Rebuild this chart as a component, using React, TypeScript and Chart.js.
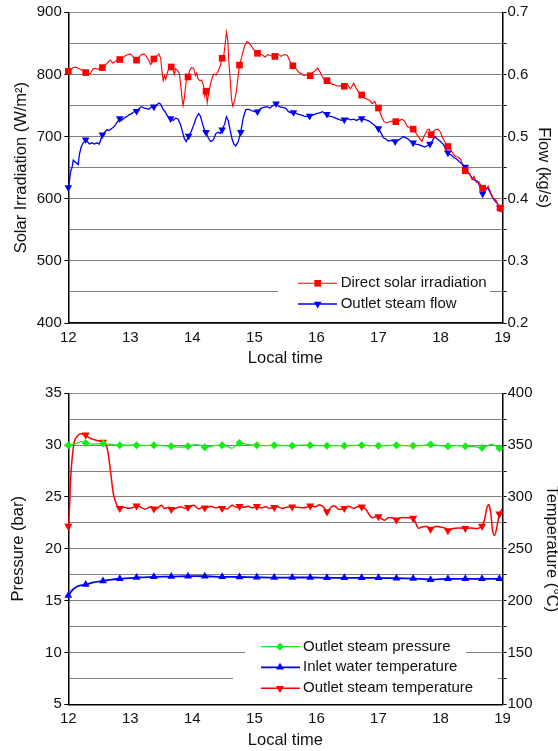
import React, { useEffect, useRef } from 'react';
import { Chart, registerables } from 'chart.js';

Chart.register(...registerables);

const FONT = '"Liberation Sans", Arial, sans-serif';

// ---------------- Top chart data ----------------
const irrTime = [12.00,12.04,12.08,12.12,12.16,12.20,12.24,12.28,12.32,12.36,12.40,12.44,12.48,12.52,12.55,12.60,12.64,12.68,12.72,12.76,12.80,12.83,12.88,12.92,12.96,13.00,13.04,13.08,13.10,13.14,13.18,13.22,13.26,13.30,13.33,13.36,13.38,13.42,13.46,13.49,13.51,13.53,13.55,13.57,13.60,13.63,13.66,13.69,13.71,13.73,13.76,13.79,13.81,13.83,13.85,13.87,13.90,13.93,13.96,13.99,14.02,14.05,14.07,14.09,14.12,14.15,14.18,14.20,14.22,14.24,14.26,14.29,14.32,14.35,14.38,14.42,14.45,14.48,14.51,14.53,14.55,14.57,14.59,14.61,14.63,14.65,14.68,14.71,14.73,14.76,14.79,14.82,14.85,14.88,14.91,14.95,14.99,15.03,15.07,15.12,15.17,15.22,15.27,15.33,15.38,15.43,15.48,15.53,15.57,15.60,15.64,15.68,15.72,15.76,15.80,15.85,15.90,15.94,15.98,16.02,16.06,16.10,16.14,16.17,16.22,16.26,16.30,16.35,16.40,16.45,16.50,16.55,16.60,16.64,16.68,16.71,16.74,16.78,16.82,16.86,16.90,16.94,16.97,17.00,17.03,17.06,17.09,17.13,17.18,17.22,17.26,17.30,17.34,17.38,17.42,17.46,17.50,17.54,17.58,17.62,17.66,17.70,17.73,17.76,17.79,17.82,17.85,17.88,17.92,17.96,18.00,18.04,18.08,18.12,18.16,18.20,18.24,18.28,18.32,18.36,18.39,18.43,18.47,18.51,18.54,18.58,18.62,18.66,18.69,18.73,18.77,18.81,18.85,18.89,18.93,18.96,19.00];
const irrValue = [805,807,811,812,810,808,806,803,801,802,809,810,808,811,811,815,820,823,818,821,825,824,827,830,832,833,829,826,823,828,832,833,829,822,816,821,825,829,833,826,805,790,798,792,804,812,812,807,800,809,806,802,785,765,750,762,788,796,807,811,810,798,802,793,790,791,782,765,773,755,768,784,795,801,799,806,814,826,833,850,868,856,818,792,762,749,757,773,790,815,826,838,848,853,851,846,840,834,833,832,828,832,830,829,833,829,832,831,822,816,812,808,803,801,798,800,798,803,806,810,804,795,791,790,787,784,783,781,782,781,784,777,786,778,772,768,767,762,760,758,753,757,749,746,738,730,724,722,724,725,723,724,726,728,725,717,714,712,710,703,698,692,700,705,711,712,704,708,711,712,707,697,690,684,680,673,668,667,664,655,645,642,640,631,636,626,627,620,617,615,620,610,601,598,590,585,577];
const irrMarkTime = [12.00,12.28,12.55,12.83,13.10,13.38,13.66,13.93,14.22,14.48,14.76,15.05,15.33,15.62,15.90,16.17,16.45,16.73,17.00,17.28,17.56,17.85,18.12,18.40,18.68,18.96];
const irrMarkValue = [805,803,811,824,823,825,812,796,773,826,815,834,829,814,798,790,781,767,746,724,712,703,684,645,617,585];

const flowTime = [12.00,12.02,12.04,12.06,12.08,12.10,12.13,12.16,12.18,12.21,12.24,12.28,12.31,12.34,12.38,12.42,12.46,12.50,12.55,12.58,12.62,12.66,12.70,12.74,12.78,12.83,12.86,12.90,12.94,12.98,13.02,13.06,13.10,13.14,13.18,13.22,13.26,13.30,13.34,13.38,13.42,13.46,13.49,13.52,13.56,13.60,13.65,13.69,13.73,13.77,13.81,13.84,13.87,13.90,13.94,13.98,14.02,14.06,14.10,14.13,14.16,14.19,14.22,14.26,14.30,14.34,14.38,14.42,14.45,14.48,14.52,14.55,14.58,14.61,14.64,14.67,14.70,14.74,14.78,14.82,14.86,14.90,14.95,15.00,15.05,15.10,15.15,15.20,15.25,15.30,15.35,15.40,15.45,15.50,15.55,15.60,15.65,15.70,15.75,15.80,15.85,15.90,15.95,16.00,16.05,16.10,16.15,16.20,16.25,16.30,16.35,16.40,16.45,16.50,16.55,16.60,16.65,16.70,16.75,16.80,16.85,16.90,16.95,17.00,17.04,17.08,17.12,17.16,17.20,17.25,17.30,17.35,17.40,17.44,17.48,17.52,17.56,17.60,17.65,17.70,17.75,17.80,17.84,17.88,17.91,17.95,18.00,18.05,18.10,18.14,18.18,18.22,18.26,18.30,18.35,18.40,18.44,18.48,18.52,18.56,18.60,18.64,18.68,18.72,18.76,18.80,18.84,18.88,18.92,18.96,19.00];
const flowValue = [0.418,0.430,0.445,0.450,0.462,0.460,0.458,0.455,0.472,0.484,0.490,0.495,0.492,0.488,0.490,0.488,0.490,0.488,0.503,0.506,0.511,0.510,0.513,0.516,0.522,0.529,0.526,0.530,0.532,0.535,0.537,0.540,0.541,0.545,0.548,0.546,0.545,0.544,0.548,0.548,0.550,0.554,0.552,0.545,0.540,0.533,0.529,0.526,0.530,0.528,0.519,0.508,0.497,0.492,0.501,0.508,0.518,0.530,0.537,0.533,0.522,0.512,0.507,0.497,0.492,0.495,0.505,0.507,0.505,0.511,0.520,0.532,0.525,0.510,0.496,0.488,0.485,0.492,0.507,0.530,0.543,0.544,0.542,0.540,0.540,0.545,0.547,0.548,0.546,0.550,0.553,0.548,0.547,0.546,0.540,0.538,0.539,0.536,0.535,0.533,0.532,0.533,0.535,0.537,0.538,0.540,0.536,0.533,0.532,0.530,0.528,0.526,0.527,0.529,0.527,0.528,0.526,0.529,0.528,0.527,0.525,0.521,0.517,0.513,0.506,0.498,0.496,0.493,0.494,0.492,0.493,0.496,0.500,0.498,0.496,0.492,0.490,0.488,0.487,0.485,0.483,0.486,0.488,0.495,0.500,0.496,0.492,0.487,0.476,0.472,0.470,0.466,0.464,0.460,0.456,0.451,0.443,0.438,0.432,0.429,0.428,0.418,0.408,0.413,0.418,0.410,0.402,0.396,0.392,0.385,0.380];
const flowMarkTime = [12.00,12.28,12.55,12.83,13.10,13.38,13.65,13.94,14.22,14.48,14.78,15.05,15.35,15.63,15.89,16.17,16.45,16.73,17.00,17.27,17.56,17.83,18.12,18.40,18.68,18.96];
const flowMarkValue = [0.418,0.495,0.503,0.529,0.541,0.548,0.529,0.501,0.507,0.511,0.507,0.540,0.553,0.539,0.533,0.536,0.527,0.529,0.513,0.492,0.490,0.488,0.474,0.451,0.408,0.385];

// ---------------- Bottom chart data ----------------
const pressTime = [12.00,12.10,12.20,12.28,12.40,12.56,12.70,12.83,13.00,13.10,13.25,13.38,13.52,13.66,13.80,13.93,14.05,14.12,14.20,14.35,14.48,14.58,14.64,14.70,14.76,14.90,15.04,15.18,15.32,15.47,15.61,15.75,15.90,16.03,16.17,16.31,16.45,16.59,16.73,16.86,17.00,17.14,17.29,17.42,17.56,17.70,17.84,17.98,18.12,18.26,18.40,18.54,18.67,18.75,18.82,18.88,18.95,19.00];
const pressValue = [30.0,30.1,30.35,30.2,30.1,30.15,30.05,30.0,30.0,30.0,29.95,30.0,29.95,29.9,29.8,29.9,30.05,30.0,29.8,29.95,30.0,29.85,29.7,29.95,30.2,30.05,30.0,29.95,30.0,29.95,29.95,30.0,30.0,29.95,29.95,29.95,29.95,29.95,30.0,29.95,29.95,29.95,30.0,29.95,29.95,29.95,30.05,29.95,29.9,29.95,29.9,29.85,29.75,29.9,30.1,29.95,29.7,29.7];
const bottomMarkTime = [12.00,12.28,12.56,12.83,13.10,13.38,13.66,13.93,14.20,14.48,14.76,15.04,15.32,15.61,15.90,16.17,16.45,16.73,17.00,17.29,17.56,17.84,18.12,18.40,18.67,18.95];
const pressMarkValue = [30.0,30.2,30.15,30.0,30.0,30.0,29.9,29.9,29.8,30.0,30.2,30.0,30.0,29.95,30.0,29.95,29.95,30.0,29.95,30.0,29.95,30.05,29.9,29.9,29.75,29.7];

const inletTime = [12.00,12.03,12.07,12.12,12.18,12.28,12.40,12.56,12.70,12.83,13.00,13.10,13.38,13.66,13.93,14.20,14.48,14.76,15.04,15.32,15.61,15.90,16.17,16.45,16.73,17.00,17.29,17.56,17.70,17.84,18.00,18.12,18.40,18.67,18.95,19.00];
const inletValue = [205,207.5,210.5,213,214.5,215.5,217.5,219,220.3,221,221.8,222.2,223,223.2,223.5,223.5,223,222.8,222.5,222.2,222.3,222.3,222,222,222,222,221.6,221.3,221,220.2,220.8,221,221,221,221,221];
const inletMarkValue = [205,215.5,219,221,222.2,223,223.2,223.5,223.5,223,222.8,222.5,222.2,222.3,222.3,222,222,222,222,221.6,221.3,220.2,221,221,221,221];

const outTime = [12.00,12.02,12.04,12.07,12.10,12.15,12.20,12.27,12.34,12.41,12.50,12.57,12.61,12.64,12.67,12.70,12.73,12.77,12.80,12.83,12.90,12.97,13.05,13.12,13.20,13.25,13.33,13.42,13.50,13.55,13.62,13.68,13.75,13.81,13.88,13.95,14.02,14.10,14.16,14.23,14.30,14.37,14.43,14.50,14.57,14.64,14.70,14.76,14.83,14.90,14.97,15.04,15.11,15.18,15.25,15.32,15.38,15.45,15.52,15.61,15.70,15.78,15.85,15.90,15.98,16.05,16.12,16.17,16.24,16.30,16.36,16.45,16.52,16.60,16.66,16.73,16.80,16.85,16.90,16.95,17.00,17.05,17.10,17.16,17.22,17.29,17.36,17.45,17.56,17.60,17.64,17.70,17.78,17.84,17.92,18.00,18.08,18.12,18.20,18.30,18.40,18.50,18.60,18.67,18.71,18.75,18.78,18.81,18.84,18.87,18.90,18.95,19.00];
const outValue = [272,290,320,342,354,359,361,360,357,355.5,354,353,350,343,330,315,302,294,290,289,290,289,290,291.5,289,288.5,290.5,288.5,292,289,290,288,289.5,290.5,289,290,292,288.5,290,289.5,291,289.5,290,289,288.5,292,290,291,290,291,289.5,291,289.5,290.5,289,290,290.5,289,290,290.5,290,289.5,290,291.5,290.5,292.5,290,285.8,290.5,291,288,289,291,289,290.5,290.5,288,283,280,281,281,279,277.5,280,280,278,280,280,279.5,275,270,271,271.5,269,271.5,271,270,267.5,269.5,270,269.8,270,269.5,272,278,290,292.5,285,268,263,268,283.6,289];
const outMarkValue = [272,360,353,289,291.5,288.5,288,290,289.5,289,291,291,290,290.5,291.5,285.8,289,290.5,281,278,279.5,269,267.5,269.8,272,283.6];

const topXTicks = { min: 12, max: 19, step: 1 };
const topYTicks = { min: 400, max: 900, step: 50, labelEvery: 100 };
const topY1Ticks = { min: 0.2, max: 0.7, step: 0.05 };
const botYTicks = { min: 5, max: 35, step: 2.5, labelEvery: 5 };
const botY1Ticks = { min: 100, max: 400, step: 25, labelEvery: 50 };

const pts = (xs: number[], ys: number[]) => xs.map((x, i) => ({ x, y: ys[i] }));

type MarkStyle = 'rect' | 'triDown' | 'triUp' | 'diamond';

function drawMarker(ctx: CanvasRenderingContext2D, style: MarkStyle, x: number, y: number, r: number, color: string) {
  ctx.fillStyle = color;
  ctx.beginPath();
  if (style === 'rect') {
    const s = Math.SQRT1_2 * r;
    ctx.rect(x - s, y - s, 2 * s, 2 * s);
  } else if (style === 'diamond') {
    ctx.moveTo(x - r, y); ctx.lineTo(x, y - r); ctx.lineTo(x + r, y); ctx.lineTo(x, y + r);
  } else {
    const sgn = style === 'triUp' ? 1 : -1;
    ctx.moveTo(x, y - sgn * r);
    ctx.lineTo(x + r * Math.sqrt(3) / 2, y + sgn * r / 2);
    ctx.lineTo(x - r * Math.sqrt(3) / 2, y + sgn * r / 2);
  }
  ctx.closePath();
  ctx.fill();
}

type LegendItem = { label: string; color: string; style: MarkStyle; r: number; lw: number };
type LegendCfg = { boxes: number[][]; rowsY: number[]; lineX: number[]; markX: number; textX: number; items: LegendItem[] };

function legendPlugin(cfg: LegendCfg) {
  return {
    id: 'customLegend',
    beforeDatasetsDraw(chart: any) {
      const ctx = chart.ctx as CanvasRenderingContext2D;
      ctx.save();
      ctx.fillStyle = '#fff';
      cfg.boxes.forEach(([x, y, w, h]) => ctx.fillRect(x, y, w, h));
      ctx.restore();
    },
    afterDraw(chart: any) {
      const ctx = chart.ctx as CanvasRenderingContext2D;
      ctx.save();
      cfg.items.forEach((it, i) => {
        const y = cfg.rowsY[i];
        ctx.strokeStyle = it.color;
        ctx.lineWidth = it.lw;
        ctx.beginPath();
        ctx.moveTo(cfg.lineX[0], y);
        ctx.lineTo(cfg.lineX[1], y);
        ctx.stroke();
        drawMarker(ctx, it.style, cfg.markX, y, it.r, it.color);
        ctx.fillStyle = '#111';
        ctx.font = `15px ${FONT}`;
        ctx.textBaseline = 'middle';
        ctx.textAlign = 'left';
        ctx.fillText(it.label, cfg.textX, y);
      });
      ctx.restore();
    },
  };
}

const tickFont = { family: FONT, size: 15 };
const titleFont = { family: FONT, size: 16.5 };

function leftAxis(t: { min: number; max: number; step: number; labelEvery: number }, title: string, width: number, titlePad: number) {
  return {
    type: 'linear',
    position: 'left',
    min: t.min,
    max: t.max,
    afterFit: (s: any) => { s.width = width; },
    ticks: {
      stepSize: t.step,
      autoSkip: false,
      padding: 2.5,
      color: '#111',
      font: tickFont,
      callback: (v: number) => (Math.abs(v / t.labelEvery - Math.round(v / t.labelEvery)) < 1e-6 ? String(v) : ''),
    },
    grid: {
      drawTicks: true,
      tickLength: 4,
      lineWidth: 1,
      color: (c: any) => (c.tick && c.tick.value === t.max ? '#8c8c8c' : '#000'),
      tickColor: (c: any) => (c.tick && Math.abs(c.tick.value / t.labelEvery - Math.round(c.tick.value / t.labelEvery)) < 1e-6 ? '#000' : 'rgba(0,0,0,0)'),
    },
    border: {
      display: true,
      color: '#000',
      width: 1.5,
      dash: (c: any) => (c.tick && c.tick.value === t.max ? [] : [1, 1]),
    },
    title: { display: true, text: title, color: '#111', font: titleFont, padding: { top: titlePad, bottom: 0 } },
  };
}

function rightAxis(t: { min: number; max: number; step: number }, title: string, width: number, titlePad: number, cb: (v: number) => string) {
  return {
    type: 'linear',
    position: 'right',
    min: t.min,
    max: t.max,
    afterFit: (s: any) => { s.width = width; },
    ticks: { stepSize: t.step, autoSkip: false, padding: 1, color: '#111', font: tickFont, callback: cb },
    grid: { drawOnChartArea: false, drawTicks: true, tickLength: 4, tickColor: '#000' },
    border: { display: true, color: '#000', width: 1.5 },
    title: { display: true, text: title, color: '#111', font: titleFont, padding: { top: titlePad, bottom: 0 } },
  };
}

function xAxis(height: number, titlePadBottom: number) {
  return {
    type: 'linear',
    position: 'bottom',
    min: topXTicks.min,
    max: topXTicks.max,
    afterFit: (s: any) => { s.height = height; },
    ticks: { stepSize: topXTicks.step, autoSkip: false, padding: 2, color: '#111', font: tickFont, maxRotation: 0 },
    grid: { display: false, drawTicks: true, tickLength: 4 },
    border: { display: true, color: '#000', width: 1.5 },
    title: { display: true, text: 'Local time', color: '#111', font: titleFont, padding: { top: 0, bottom: titlePadBottom } },
  };
}

function topConfig(): any {
  return {
    type: 'line',
    data: {
      datasets: [
        { label: 'irrMarks', data: pts(irrMarkTime, irrMarkValue), yAxisID: 'y', showLine: false, pointStyle: 'rect', pointRadius: 4.7, pointBackgroundColor: '#ff0000', pointBorderColor: '#ff0000', pointBorderWidth: 0, clip: false },
        { label: 'flowMarks', data: pts(flowMarkTime, flowMarkValue), yAxisID: 'y1', showLine: false, pointStyle: 'triangle', pointRotation: 180, pointRadius: 4.4, pointBackgroundColor: '#0000ff', pointBorderColor: '#0000ff', pointBorderWidth: 0, clip: false },
        { label: 'Direct solar irradiation', data: pts(irrTime, irrValue), yAxisID: 'y', borderColor: '#ff0000', borderWidth: 1.1, pointRadius: 0, tension: 0 },
        { label: 'Outlet steam flow', data: pts(flowTime, flowValue), yAxisID: 'y1', borderColor: '#0000ff', borderWidth: 1.3, pointRadius: 0, tension: 0 },
      ],
    },
    options: {
      responsive: false,
      maintainAspectRatio: false,
      animation: false,
      devicePixelRatio: 1,
      layout: { padding: { left: 11.1, right: 5, top: 12.3, bottom: 0 } },
      plugins: { legend: { display: false }, tooltip: { enabled: false } },
      scales: {
        x: xAxis(48, 3.1),
        y: leftAxis(topYTicks, 'Solar Irradiation (W/m²)', 57.2, 0),
        y1: rightAxis(topY1Ticks, 'Flow (kg/s)', 50.5, 0, (v: number) => {
          const r = Math.round(v * 100);
          return r % 10 === 0 ? (r / 100).toFixed(1) : '';
        }),
      },
    },
    plugins: [
      legendPlugin({
        boxes: [[278, 266, 212, 52]],
        rowsY: [283.3, 304],
        lineX: [298, 337],
        markX: 317.7,
        textX: 340.7,
        items: [
          { label: 'Direct solar irradiation', color: '#ff0000', style: 'rect', r: 4.7, lw: 1.1 },
          { label: 'Outlet steam flow', color: '#0000ff', style: 'triDown', r: 4.4, lw: 1.3 },
        ],
      }),
    ],
  };
}

function bottomConfig(): any {
  return {
    type: 'line',
    data: {
      datasets: [
        { label: 'pressMarks', data: pts(bottomMarkTime, pressMarkValue), yAxisID: 'y', showLine: false, pointStyle: 'rectRot', pointRadius: 4, pointBackgroundColor: '#11ee11', pointBorderColor: '#11ee11', pointBorderWidth: 0, clip: false },
        { label: 'inletMarks', data: pts(bottomMarkTime, inletMarkValue), yAxisID: 'y1', showLine: false, pointStyle: 'triangle', pointRotation: 0, pointRadius: 4.5, pointBackgroundColor: '#0000ff', pointBorderColor: '#0000ff', pointBorderWidth: 0, clip: false },
        { label: 'outMarks', data: pts(bottomMarkTime, outMarkValue), yAxisID: 'y1', showLine: false, pointStyle: 'triangle', pointRotation: 180, pointRadius: 4.7, pointBackgroundColor: '#ff0000', pointBorderColor: '#ff0000', pointBorderWidth: 0, clip: false },
        { label: 'Outlet steam pressure', data: pts(pressTime, pressValue), yAxisID: 'y', borderColor: '#11ee11', borderWidth: 1.2, pointRadius: 0, tension: 0.3 },
        { label: 'Inlet water temperature', data: pts(inletTime, inletValue), yAxisID: 'y1', borderColor: '#0000ff', borderWidth: 1.8, pointRadius: 0, tension: 0.3 },
        { label: 'Outlet steam temperature', data: pts(outTime, outValue), yAxisID: 'y1', borderColor: '#ff0000', borderWidth: 1.5, pointRadius: 0, tension: 0.3 },
      ],
    },
    options: {
      responsive: false,
      maintainAspectRatio: false,
      animation: false,
      devicePixelRatio: 1,
      layout: { padding: { left: 8.1, right: 0, top: 22.3, bottom: 0 } },
      plugins: { legend: { display: false }, tooltip: { enabled: false } },
      scales: {
        x: xAxis(46.7, 1.1),
        y: leftAxis(botYTicks, 'Pressure (bar)', 60.2, 0),
        y1: rightAxis(botY1Ticks, 'Temperature (°C)', 55.5, -3, (v: number) => (v % botY1Ticks.labelEvery === 0 ? String(v) : '')),
      },
    },
    plugins: [
      legendPlugin({
        boxes: [[245, 262, 221, 28], [233, 290, 265, 41]],
        rowsY: [275.7, 296.3, 317.3],
        lineX: [261, 300],
        markX: 280,
        textX: 303,
        items: [
          { label: 'Outlet steam pressure', color: '#11ee11', style: 'diamond', r: 4, lw: 1.2 },
          { label: 'Inlet water temperature', color: '#0000ff', style: 'triUp', r: 4.5, lw: 1.8 },
          { label: 'Outlet steam temperature', color: '#ff0000', style: 'triDown', r: 4.7, lw: 1.5 },
        ],
      }),
    ],
  };
}

export default function App() {
  const topRef = useRef<HTMLCanvasElement>(null);
  const botRef = useRef<HTMLCanvasElement>(null);
  useEffect(() => {
    const c1 = new Chart(topRef.current as HTMLCanvasElement, topConfig());
    const c2 = new Chart(botRef.current as HTMLCanvasElement, bottomConfig());
    return () => {
      c1.destroy();
      c2.destroy();
    };
  }, []);
  return (
    <div style={{ position: 'fixed', left: 0, top: 0, width: 558, height: 751, background: '#fff', overflow: 'hidden' }}>
      <canvas ref={topRef} width={558} height={371} style={{ position: 'absolute', left: 0, top: 0, width: 558, height: 371 }} />
      <canvas ref={botRef} width={558} height={380} style={{ position: 'absolute', left: 0, top: 371, width: 558, height: 380 }} />
    </div>
  );
}
